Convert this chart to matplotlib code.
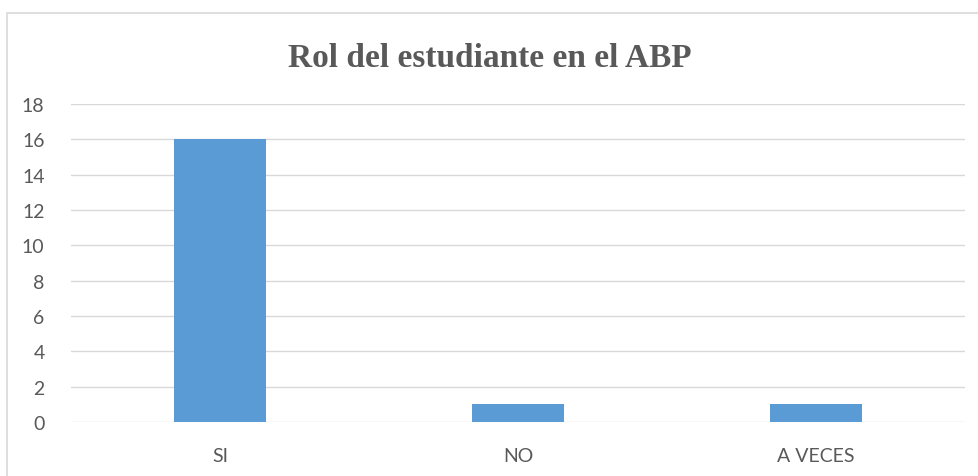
import matplotlib.pyplot as plt
from matplotlib.patches import Rectangle

# Data
categories = ["SI", "NO", "A VECES"]
values = [16, 1, 1]
y_ticks = [0, 2, 4, 6, 8, 10, 12, 14, 16, 18]

fig = plt.figure(figsize=(9.79, 4.77), dpi=100)
ax = fig.add_axes([0.0725, 0.1132, 0.9132, 0.6667])

# chart area border (partially cropped, like the original)
fig.patches.append(Rectangle((7 / 979, -0.1), 1.2, 1 - 14 / 477 + 0.1,
                             transform=fig.transFigure, fill=False,
                             edgecolor="#D9D9D9", linewidth=1.2))

ax.bar(categories, values, width=0.31, color="#5B9BD5", zorder=3)

ax.set_xlim(-0.5, 2.5)
ax.set_ylim(0, 18)
ax.set_yticks(y_ticks)
ax.yaxis.grid(True, color="#D9D9D9", linewidth=1)
ax.set_axisbelow(True)
for side in ["top", "right", "left", "bottom"]:
    ax.spines[side].set_visible(False)
ax.tick_params(axis="both", length=0, labelsize=14, labelcolor="#595959")
ax.tick_params(axis="x", pad=18)
ax.tick_params(axis="y", pad=19)
for lbl in ax.get_xticklabels() + ax.get_yticklabels():
    lbl.set_fontfamily("Lato")

fig.text(0.5, 0.878, "Rol del estudiante en el ABP", ha="center", va="center",
         fontsize=24, fontweight="bold", family="Liberation Serif", color="#595959")

plt.savefig("out.png", dpi=100)
